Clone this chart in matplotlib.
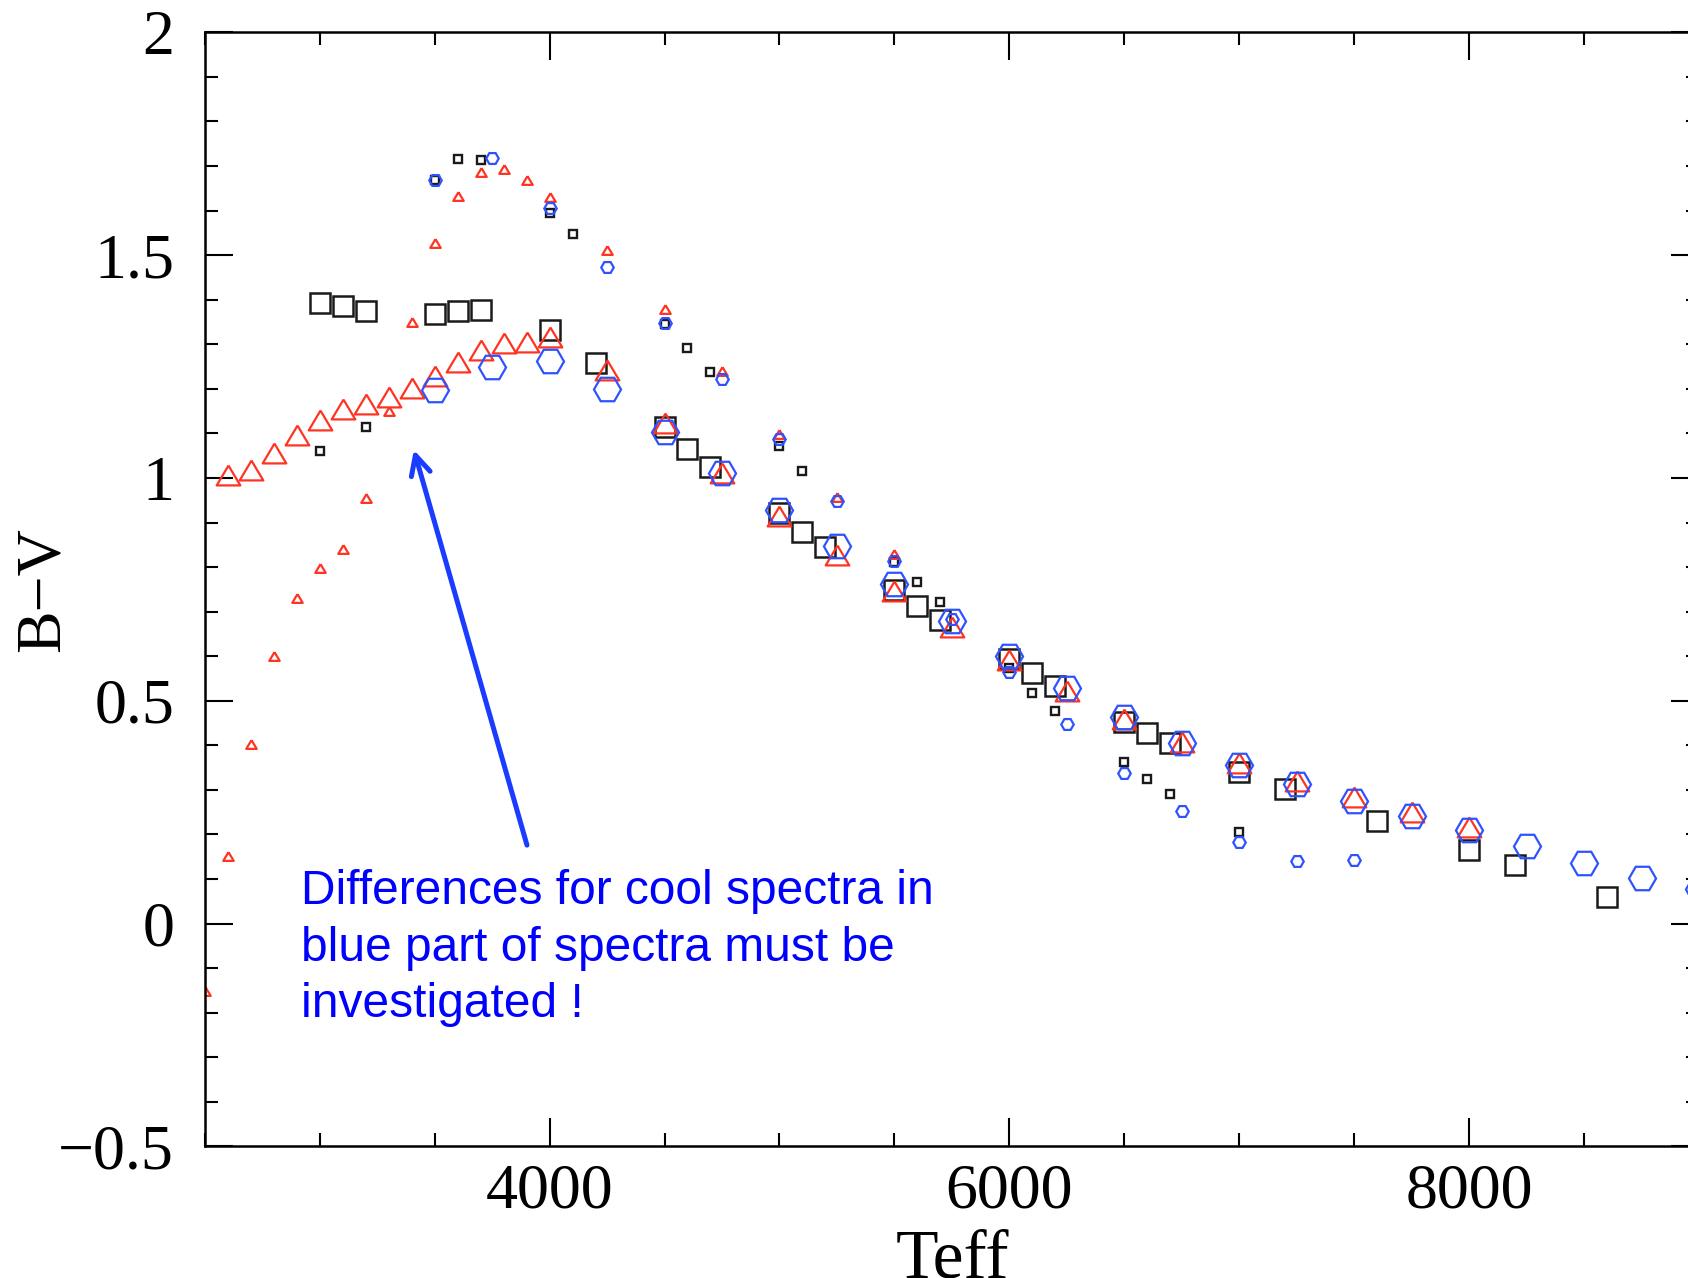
import matplotlib.pyplot as plt
from matplotlib.ticker import MultipleLocator, FixedLocator, FixedFormatter

# black squares, large
teff_sq_big = [3000, 3100, 3200, 3500, 3600, 3700, 4000, 4200, 4500, 4600, 4700,
               5000, 5100, 5200, 5500, 5600, 5700, 6000, 6100, 6200, 6500, 6600,
               6700, 7000, 7200, 7600, 8000, 8200, 8600]
bv_sq_big = [1.392, 1.386, 1.375, 1.369, 1.375, 1.376, 1.332, 1.259, 1.115, 1.066, 1.025,
             0.921, 0.879, 0.846, 0.749, 0.713, 0.682, 0.594, 0.562, 0.532, 0.453, 0.428,
             0.406, 0.341, 0.301, 0.230, 0.164, 0.131, 0.059]

# black squares, small
teff_sq_small = [3000, 3200, 3500, 3600, 3700, 4000, 4100, 4500, 4600, 4700, 5000,
                 5100, 5500, 5600, 5700, 6000, 6100, 6200, 6500, 6600, 6700, 7000]
bv_sq_small = [1.060, 1.115, 1.669, 1.715, 1.713, 1.595, 1.547, 1.345, 1.291, 1.238, 1.072,
               1.016, 0.811, 0.767, 0.721, 0.573, 0.518, 0.478, 0.362, 0.325, 0.291, 0.206]

# red triangles, large
teff_tri_big = [2600, 2700, 2800, 2900, 3000, 3100, 3200, 3300, 3400, 3500, 3600, 3700,
                3800, 3900, 4000, 4250, 4500, 4750, 5000, 5250, 5500, 5750, 6000, 6250,
                6500, 6750, 7000, 7250, 7500, 7750, 8000]
bv_tri_big = [1.006, 1.018, 1.055, 1.096, 1.131, 1.154, 1.167, 1.182, 1.201, 1.229, 1.261, 1.288,
              1.303, 1.306, 1.317, 1.242, 1.124, 1.012, 0.915, 0.828, 0.746, 0.666, 0.591, 0.522,
              0.459, 0.407, 0.361, 0.321, 0.285, 0.251, 0.217]

# red triangles, small
teff_tri_small = [2500, 2600, 2700, 2800, 2900, 3000, 3100, 3200, 3300, 3400, 3500, 3600,
                  3700, 3800, 3900, 4000, 4250, 4500, 4750, 5000, 5250, 5500]
bv_tri_small = [-0.151, 0.151, 0.404, 0.600, 0.731, 0.798, 0.840, 0.956, 1.151, 1.351, 1.527, 1.633,
                1.687, 1.693, 1.669, 1.631, 1.512, 1.380, 1.240, 1.099, 0.958, 0.829]

# blue hexagons, large
teff_hex_big = [3500, 3750, 4000, 4250, 4500, 4750, 5000, 5250, 5500, 5750, 6000, 6250,
                6500, 6750, 7000, 7250, 7500, 7750, 8000, 8250, 8500, 8750, 9000]
bv_hex_big = [1.197, 1.250, 1.262, 1.199, 1.103, 1.012, 0.928, 0.847, 0.763, 0.679, 0.600, 0.528,
              0.463, 0.405, 0.356, 0.314, 0.276, 0.241, 0.210, 0.173, 0.137, 0.103, 0.078]

# blue hexagons, small
teff_hex_small = [3500, 3750, 4000, 4250, 4500, 4750, 5000, 5250, 5500, 5750, 6000, 6250,
                  6500, 6750, 7000, 7250, 7500]
bv_hex_small = [1.669, 1.717, 1.605, 1.474, 1.348, 1.223, 1.087, 0.948, 0.814, 0.683, 0.565, 0.448,
                0.337, 0.253, 0.184, 0.141, 0.143]

note = "Differences for cool spectra in\nblue part of spectra must be\ninvestigated !"

red = '#ff3322'
blue = '#2f52ff'
black = '#1a1a1a'
tri = [(0, 0.84), (-1, -0.84), (1, -0.84), (0, 0.84)]

plt.rcParams['font.family'] = ['Liberation Serif', 'DejaVu Serif']

fig = plt.figure(figsize=(16.88, 12.78), dpi=100)
ax = fig.add_axes([0.1212, 0.1030, 0.8855, 0.8717])

ax.plot(teff_sq_big, bv_sq_big, ls='none', marker='s', ms=14, mfc='none', mec=black, mew=1.8)
ax.plot(teff_sq_small, bv_sq_small, ls='none', marker='s', ms=6, mfc='none', mec=black, mew=1.7)
ax.plot(teff_tri_big, bv_tri_big, ls='none', marker=tri, ms=17, mfc='none', mec=red, mew=1.6)
ax.plot(teff_tri_small, bv_tri_small, ls='none', marker=tri, ms=7.5, mfc='none', mec=red, mew=1.6)
ax.plot(teff_hex_big, bv_hex_big, ls='none', marker='H', ms=19.5, mfc='none', mec=blue, mew=1.6)
ax.plot(teff_hex_small, bv_hex_small, ls='none', marker='H', ms=9, mfc='none', mec=blue, mew=1.6)

ax.set_xlim(2500, 9000)
ax.set_ylim(-0.5, 2)

ax.xaxis.set_major_locator(FixedLocator([4000, 6000, 8000]))
ax.xaxis.set_minor_locator(MultipleLocator(500))
ax.yaxis.set_major_locator(FixedLocator([-0.5, 0, 0.5, 1, 1.5, 2]))
ax.yaxis.set_major_formatter(FixedFormatter(['\u22120.5', '0', '0.5', '1', '1.5', '2']))
ax.yaxis.set_minor_locator(MultipleLocator(0.1))
ax.tick_params(which='both', direction='in', top=True, right=True, width=1.5, labelsize=46)
ax.tick_params(which='major', length=20)
ax.tick_params(which='minor', length=9.5)
ax.tick_params(axis='x', which='major', pad=12)
ax.tick_params(axis='y', which='major', pad=22)
for s in ax.spines.values():
    s.set_linewidth(1.8)

ax.set_xlabel('Teff', fontsize=50)
ax.set_ylabel('B\u2212V', fontsize=46)
ax.xaxis.set_label_coords(0.5, -0.074)
ax.yaxis.set_label_coords(-0.088, 0.5)

ax.annotate('', xy=(3410, 1.063), xytext=(3902, 0.176),
            arrowprops=dict(arrowstyle='->', lw=3.6, color='#1a3cff', mutation_scale=35,
                            shrinkA=0, shrinkB=0))
ax.text(0.0645, 0.249, note, transform=ax.transAxes, color='#0000ff', fontsize=34.5,
        family=['Liberation Sans', 'DejaVu Sans'], ha='left', va='top', linespacing=1.33)

fig.savefig('out.png', dpi=100)
